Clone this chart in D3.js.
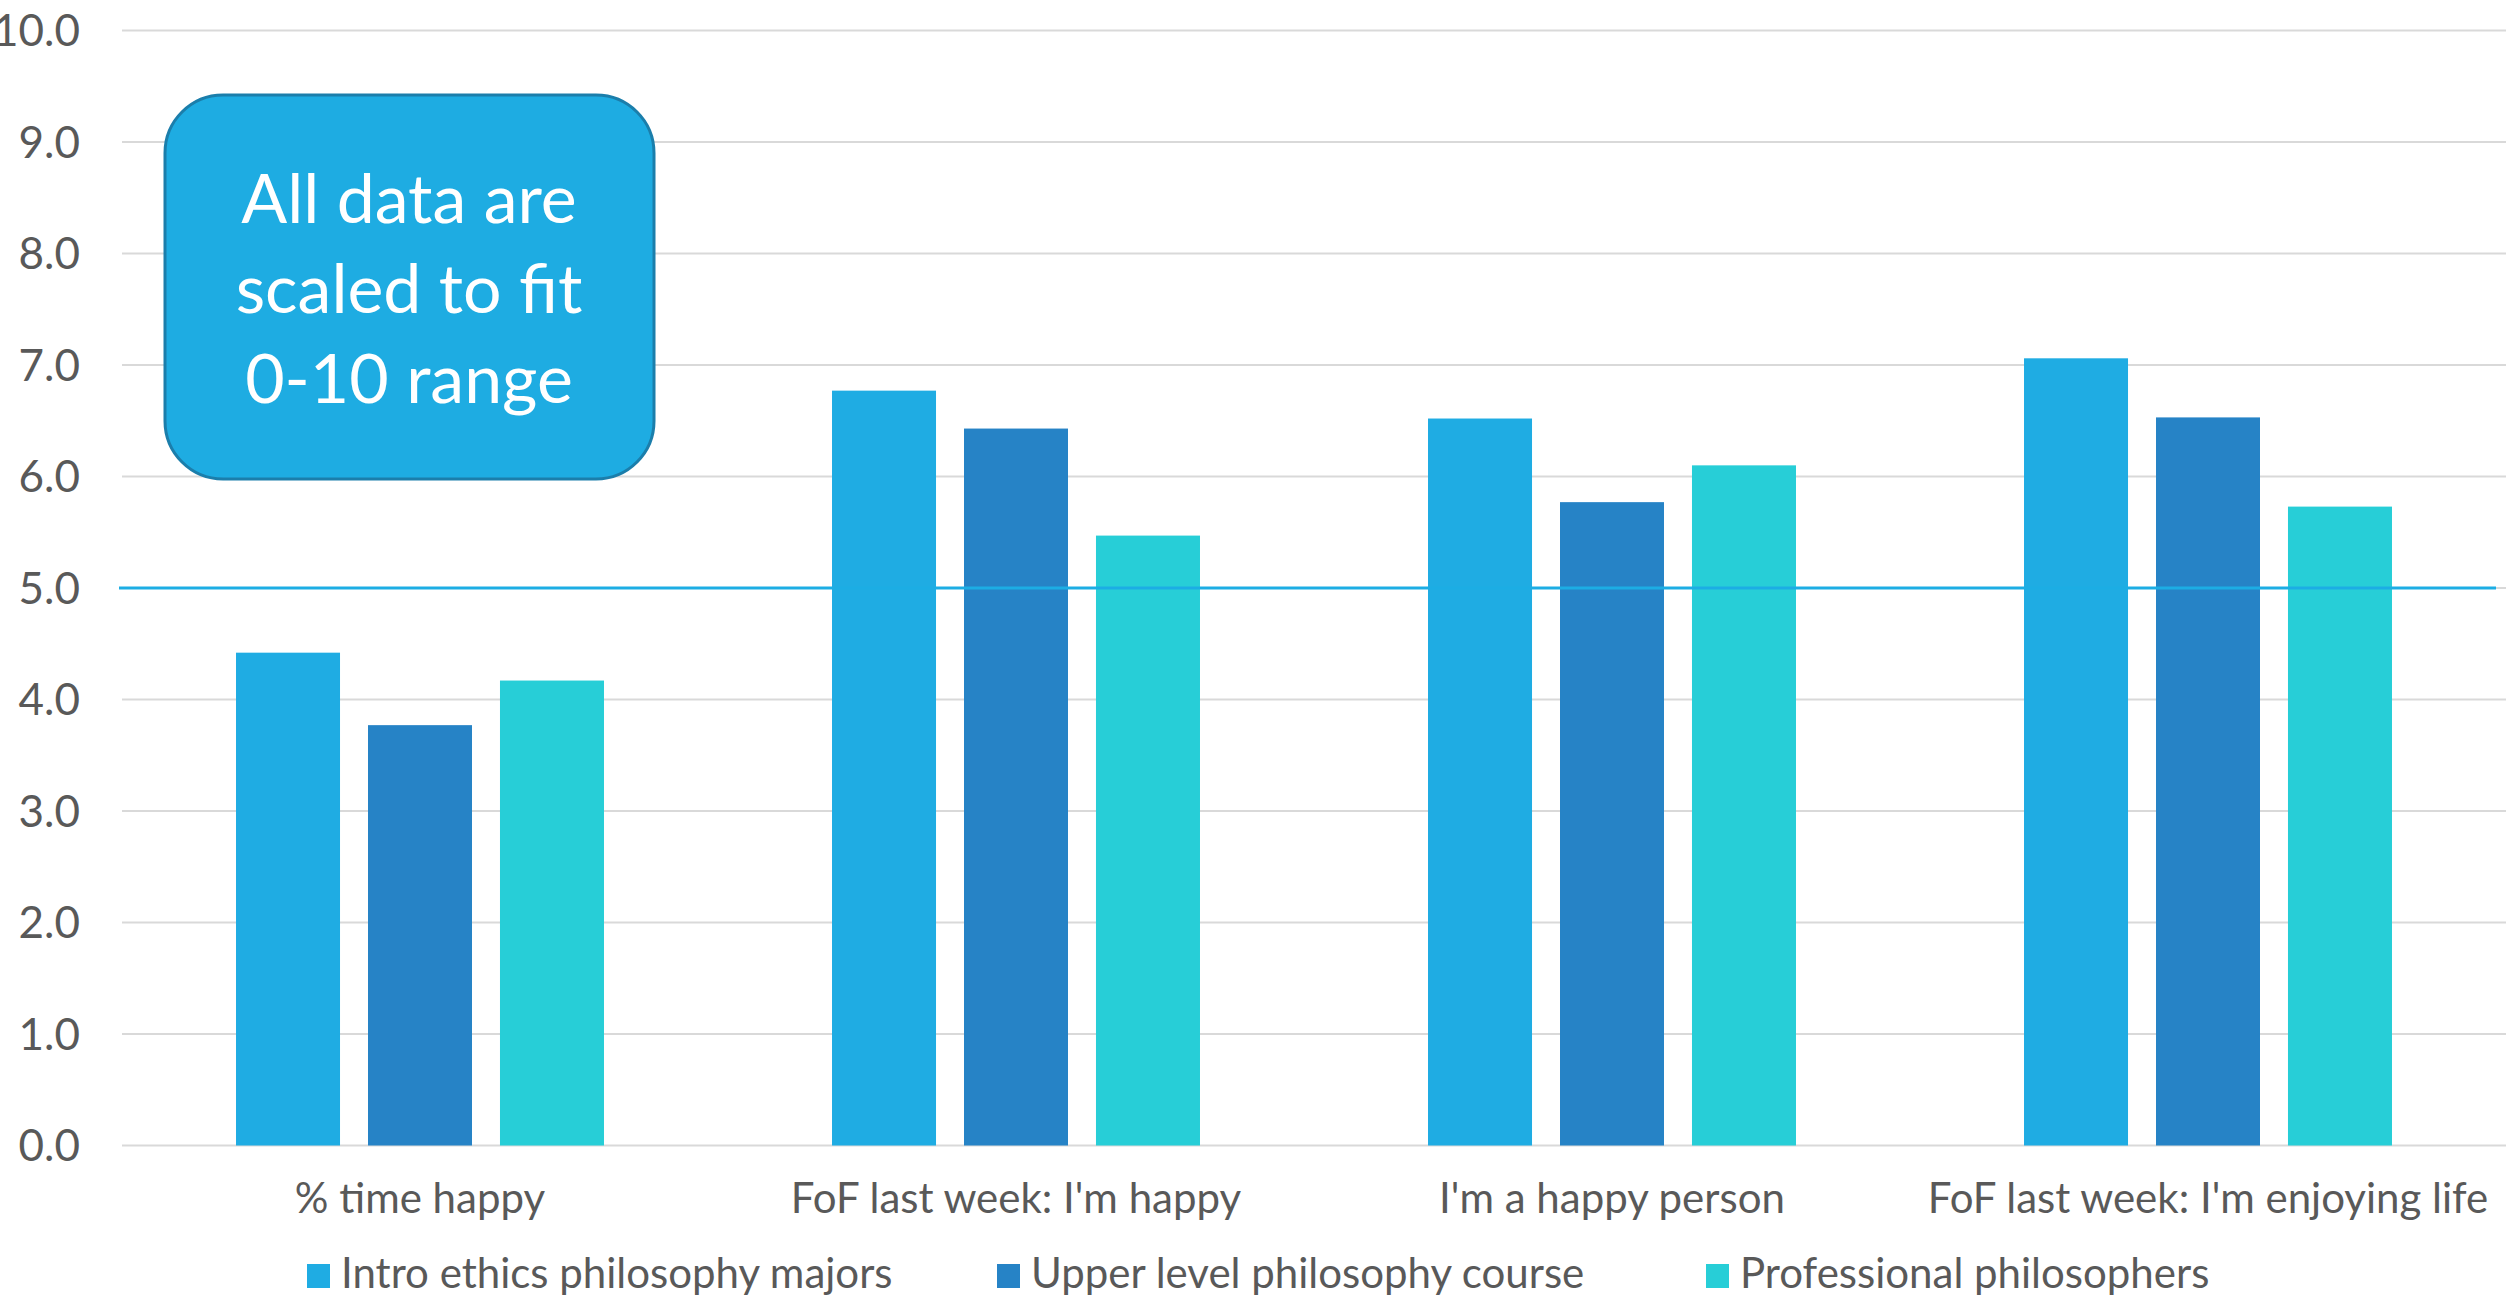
<html>
<head>
<title>Happiness</title>
<script src="https://d3js.org/d3.v7.min.js"></script>
<style>
  body { margin: 0; background: #fff; }
  text { font-family: Lato, "Open Sans", sans-serif; }
</style>
</head>
<body>
<div id="chart"></div>
<script>
// data
var categories = ["% time happy", "FoF last week: I'm happy", "I'm a happy person", "FoF last week: I'm enjoying life"];
var seriesNames = ["Intro ethics philosophy majors", "Upper level philosophy course", "Professional philosophers"];
var introEthics = [4.42, 6.77, 6.52, 7.06];
var upperLevel = [3.77, 6.43, 5.77, 6.53];
var professionals = [4.17, 5.47, 6.10, 5.73];
var yTicks = [0, 1, 2, 3, 4, 5, 6, 7, 8, 9, 10];
var refValue = 5;
var calloutLines = ["All data are", "scaled to fit", "0-10 range"];

var colors = ["#1FACE3", "#2683C6", "#27CED7"];
var seriesValues = [introEthics, upperLevel, professionals];

var width = 2509, height = 1297;
var plotLeft = 122, plotRight = 2506, plotTop = 30.5, plotBottom = 1145.5;

var svg = d3.select("#chart").append("svg")
    .attr("width", width)
    .attr("height", height);

var x0 = d3.scaleBand()
    .domain(categories)
    .range([plotLeft, plotRight])
    .paddingInner(0.3826)
    .paddingOuter(0.1913);

var x1 = d3.scaleBand()
    .domain(seriesNames)
    .range([0, x0.bandwidth()])
    .paddingInner(0.212);

var y = d3.scaleLinear()
    .domain([0, 10])
    .range([plotBottom, plotTop]);

// gridlines
svg.append("g")
  .selectAll("line")
  .data(yTicks)
  .enter().append("line")
    .attr("x1", plotLeft)
    .attr("x2", plotRight)
    .attr("y1", function(d) { return y(d); })
    .attr("y2", function(d) { return y(d); })
    .attr("stroke", "#D9D9D9")
    .attr("stroke-width", 2);

// y labels
svg.append("g")
  .selectAll("text")
  .data(yTicks)
  .enter().append("text")
    .attr("x", 80)
    .attr("y", function(d) { return y(d); })
    .attr("dy", "0.36em")
    .attr("text-anchor", "end")
    .attr("fill", "#595959")
    .style("font-size", "44px")
    .text(function(d) { return d3.format(".1f")(d); });

// bars
var rows = categories.map(function(c, i) {
  return { cat: c, vals: seriesNames.map(function(s, j) { return { name: s, value: seriesValues[j][i], idx: j }; }) };
});

svg.append("g")
  .selectAll("g")
  .data(rows)
  .enter().append("g")
    .attr("transform", function(d) { return "translate(" + x0(d.cat) + ",0)"; })
  .selectAll("rect")
  .data(function(d) { return d.vals; })
  .enter().append("rect")
    .attr("x", function(d) { return x1(d.name); })
    .attr("width", x1.bandwidth())
    .attr("y", function(d) { return y(d.value); })
    .attr("height", function(d) { return y(0) - y(d.value); })
    .attr("fill", function(d) { return colors[d.idx]; });

// reference line at 5
svg.append("line")
    .attr("x1", 119)
    .attr("x2", 2496)
    .attr("y1", y(refValue))
    .attr("y2", y(refValue))
    .attr("stroke", "#1CADE4")
    .attr("stroke-width", 3);

// category labels
svg.append("g")
  .selectAll("text")
  .data(categories)
  .enter().append("text")
    .attr("x", function(d) { return x0(d) + x0.bandwidth() / 2; })
    .attr("y", 1213)
    .attr("text-anchor", "middle")
    .attr("fill", "#595959")
    .style("font-size", "42px")
    .text(function(d) { return d; });

// legend
var legendX = [307, 997, 1706];
var legend = svg.append("g")
  .selectAll("g")
  .data(seriesNames)
  .enter().append("g")
    .attr("transform", function(d, i) { return "translate(" + legendX[i] + ",1264)"; });

legend.append("rect")
    .attr("width", 23)
    .attr("height", 24)
    .attr("fill", function(d, i) { return colors[i]; });

legend.append("text")
    .attr("x", 34)
    .attr("y", 24)
    .attr("fill", "#595959")
    .style("font-size", "42px")
    .text(function(d) { return d; });

// callout box
svg.append("rect")
    .attr("x", 165)
    .attr("y", 95)
    .attr("width", 489)
    .attr("height", 384)
    .attr("rx", 58)
    .attr("ry", 58)
    .attr("fill", "#1EACE2")
    .attr("stroke", "#1B7EAB")
    .attr("stroke-width", 3);

svg.append("g")
  .selectAll("text")
  .data(calloutLines)
  .enter().append("text")
    .attr("x", 409)
    .attr("y", function(d, i) { return 223 + i * 90; })
    .attr("text-anchor", "middle")
    .attr("fill", "#fff")
    .style("font-size", "68px")
    .text(function(d) { return d; });
</script>
</body>
</html>
